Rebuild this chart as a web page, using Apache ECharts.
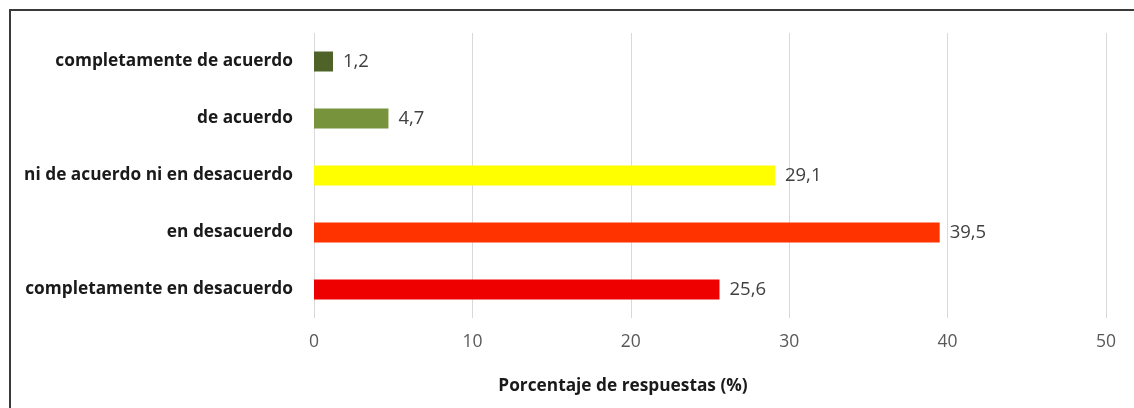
<!DOCTYPE html>
<html><head><meta charset="utf-8">
<script src="https://cdn.jsdelivr.net/npm/echarts@6/dist/echarts.min.js"></script>
<style>html,body{margin:0;padding:0;background:#fff}#c{width:1134px;height:408px}</style>
</head><body><div id="c"></div>
<script>
const categories = ['completamente en desacuerdo','en desacuerdo','ni de acuerdo ni en desacuerdo','de acuerdo','completamente de acuerdo'];
const values = [25.6, 39.5, 29.1, 4.7, 1.2];
const colors = ['#EE0000','#FF3300','#FFFF00','#77933C','#4F6228'];
const xTicks = [0,10,20,30,40,50];
const xTitle = 'Porcentaje de respuestas (%)';

const chart = echarts.init(document.getElementById('c'));
chart.setOption({
  animation:false,
  graphic:[{type:'rect',shape:{x:10,y:10,width:1200,height:500},style:{fill:'none',stroke:'#3a3a3a',lineWidth:2},silent:true}],
  grid:{left:314,top:33,width:792,height:285},
  xAxis:{type:'value',min:xTicks[0],max:xTicks[xTicks.length-1],interval:10,
    axisLine:{show:false},axisTick:{show:false},
    splitLine:{lineStyle:{color:'#d9d9d9',width:1}},
    axisLabel:{color:'#595959',fontSize:17.5,fontFamily:'Open Sans',margin:15,formatter:v=>String(v)},
    name:xTitle,nameLocation:'middle',nameGap:60,
    nameTextStyle:{fontFamily:'Open Sans',fontWeight:'bold',fontSize:17.3,color:'#1a1a1a',padding:[0,174,0,0]}},
  yAxis:{type:'category',data:categories,axisLine:{show:false},axisTick:{show:false},
    axisLabel:{fontFamily:'Open Sans',fontWeight:'bold',fontSize:17.3,color:'#1a1a1a',margin:21}},
  series:[{type:'bar',barWidth:20,
    data:values.map((v,i)=>({value:v,itemStyle:{color:colors[i]}})),
    label:{show:true,position:'right',distance:10,color:'#404040',fontFamily:'Open Sans',fontSize:18.5,
      formatter:p=>String(p.value).replace('.',',')}}]
});
</script></body></html>
